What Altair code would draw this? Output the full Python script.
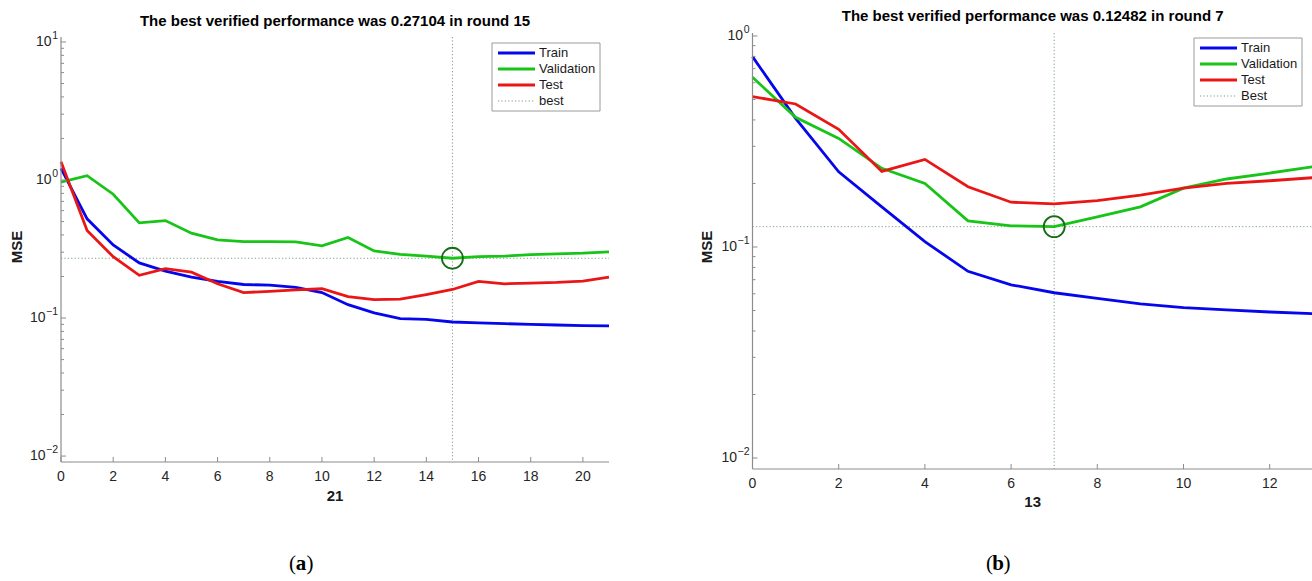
import altair as alt
import pandas as pd

# ---- series -------------------------------------------------------------
SERIES = ["Train", "Validation", "Test"]
SERIES_COLORS = ["#0606ec", "#18c418", "#ea1616"]
BEST_COLOR = "#7f9f7f"
CIRCLE_COLOR = "#176b17"

# panel (a): 21 rounds
epochs_a = list(range(22))
train_a = [1.214, 0.523, 0.338, 0.251, 0.219, 0.198, 0.184, 0.175, 0.173, 0.167,
           0.153, 0.125, 0.109, 0.0989, 0.0979, 0.0936, 0.0921, 0.0910, 0.0900,
           0.0890, 0.0882, 0.0876]
valid_a = [0.965, 1.074, 0.789, 0.489, 0.508, 0.412, 0.368, 0.358, 0.358, 0.356,
           0.333, 0.383, 0.306, 0.289, 0.281, 0.27104, 0.279, 0.281, 0.288,
           0.292, 0.295, 0.302]
test_a = [1.354, 0.431, 0.278, 0.204, 0.228, 0.215, 0.177, 0.153, 0.156, 0.160,
          0.163, 0.143, 0.136, 0.137, 0.148, 0.161, 0.184, 0.177, 0.179, 0.181,
          0.185, 0.198]
best_epoch_a = 15
best_perf_a = 0.27104
title_a = "The best verified performance was 0.27104 in round 15"
best_label_a = "best"

# panel (b): 13 rounds
epochs_b = list(range(14))
train_b = [0.798, 0.407, 0.227, 0.155, 0.106, 0.0767, 0.0662, 0.0607, 0.0571,
           0.0537, 0.0516, 0.0503, 0.0492, 0.0483]
valid_b = [0.637, 0.412, 0.327, 0.236, 0.200, 0.133, 0.126, 0.12482, 0.139,
           0.155, 0.190, 0.210, 0.224, 0.240]
test_b = [0.516, 0.476, 0.361, 0.228, 0.260, 0.193, 0.163, 0.160, 0.166, 0.176,
          0.190, 0.200, 0.206, 0.213]
best_epoch_b = 7
best_perf_b = 0.12482
title_b = "The best verified performance was 0.12482 in round 7"
best_label_b = "Best"

# ticks
xticks_a = list(range(0, 21, 2))
xticks_b = list(range(0, 13, 2))
ydecades_a = [0.01, 0.1, 1.0, 10.0]
yexponents_a = ["−2", "−1", "0", "1"]
ydecades_b = [0.01, 0.1, 1.0]
yexponents_b = ["−2", "−1", "0"]
minor_mult = [2, 3, 4, 5, 6, 7, 8, 9]

FONT = "Liberation Sans"
SERIF = "Liberation Serif"
TICK_COLOR = "#262626"
AXIS_COLOR = "#8c8c8c"
EXP_SIZE = 10.5


def one_row():
    return pd.DataFrame({"k": [0]})


def exp_width(s):
    # approximate advance width of the exponent text in Liberation Sans
    return sum(0.584 if ch == "−" else 0.556 for ch in s) * EXP_SIZE


def panel(cfg):
    x0, x1, ytop, ybot = cfg["x0"], cfg["x1"], cfg["ytop"], cfg["ybot"]
    xsc = alt.Scale(domain=[0, cfg["xmax"]], range=[x0, x1], nice=False, zero=False)
    ysc = alt.Scale(type="log", domain=[10 ** cfg["ylo"], 10 ** cfg["yhi"]],
                    range=[ybot, ytop], nice=False)

    def X(f):
        return alt.X(f, type="quantitative", scale=xsc, axis=None)

    def Y(f):
        return alt.Y(f, type="quantitative", scale=ysc, axis=None)

    layers = []

    # best-round guide lines
    layers.append(
        alt.Chart(pd.DataFrame({"mse": [cfg["best_perf"]]}))
        .mark_rule(color=BEST_COLOR, strokeWidth=1, strokeDash=[1.2, 2.2])
        .encode(y=Y("mse"), x=alt.value(x0), x2=alt.value(x1))
    )
    layers.append(
        alt.Chart(pd.DataFrame({"epoch": [cfg["best_epoch"]]}))
        .mark_rule(color=BEST_COLOR, strokeWidth=1, strokeDash=[1.2, 2.2])
        .encode(x=X("epoch"), y=alt.value(ytop), y2=alt.value(ybot))
    )

    # performance curves
    rows = []
    for name, vals in zip(SERIES, cfg["curves"]):
        for e, v in zip(cfg["epochs"], vals):
            rows.append({"epoch": e, "mse": v, "series": name})
    layers.append(
        alt.Chart(pd.DataFrame(rows))
        .mark_line(strokeWidth=2.8)
        .encode(
            x=X("epoch"), y=Y("mse"),
            color=alt.Color("series:N", scale=alt.Scale(domain=SERIES, range=SERIES_COLORS), legend=None),
            detail="series:N",
        )
    )

    # circle on the best validation point
    layers.append(
        alt.Chart(pd.DataFrame({"epoch": [cfg["best_epoch"]], "mse": [cfg["best_perf"]]}))
        .mark_point(shape="circle", size=440, filled=False, color=CIRCLE_COLOR,
                    strokeWidth=1.8, opacity=1)
        .encode(x=X("epoch"), y=Y("mse"))
    )

    # axis lines
    layers.append(
        alt.Chart(one_row()).mark_rule(color=AXIS_COLOR, strokeWidth=1.2)
        .encode(x=alt.value(x0), y=alt.value(ytop), y2=alt.value(ybot))
    )
    layers.append(
        alt.Chart(one_row()).mark_rule(color=AXIS_COLOR, strokeWidth=1.2)
        .encode(x=alt.value(x0), x2=alt.value(x1), y=alt.value(ybot))
    )

    # ticks (inward)
    layers.append(
        alt.Chart(pd.DataFrame({"epoch": cfg["xticks"]})).mark_rule(color=AXIS_COLOR, strokeWidth=1)
        .encode(x=X("epoch"), y=alt.value(ybot), y2=alt.value(ybot - 5))
    )
    layers.append(
        alt.Chart(pd.DataFrame({"mse": cfg["ydecades"]})).mark_rule(color=AXIS_COLOR, strokeWidth=1)
        .encode(y=Y("mse"), x=alt.value(x0), x2=alt.value(x0 + 5))
    )
    lo, hi = 10 ** cfg["ylo"], 10 ** cfg["yhi"]
    minors = [m * d for d in cfg["ydecades"] for m in minor_mult if lo <= m * d <= hi]
    layers.append(
        alt.Chart(pd.DataFrame({"mse": minors})).mark_rule(color=AXIS_COLOR, strokeWidth=1)
        .encode(y=Y("mse"), x=alt.value(x0), x2=alt.value(x0 + 3))
    )

    # x tick labels
    layers.append(
        alt.Chart(pd.DataFrame({"epoch": cfg["xticks"], "label": [str(t) for t in cfg["xticks"]]}))
        .mark_text(baseline="middle", align="center", font=FONT, fontSize=14, color=TICK_COLOR)
        .encode(x=X("epoch"), y=alt.value(ybot + 15), text="label:N")
    )
    # y tick labels: base "10" with a raised exponent
    for dec, ex in zip(cfg["ydecades"], cfg["yexponents"]):
        row = pd.DataFrame({"mse": [dec]})
        ex_right = x0 - 3
        layers.append(
            alt.Chart(row)
            .mark_text(text=ex, align="right", baseline="middle", dy=-6, font=FONT,
                       fontSize=EXP_SIZE, color=TICK_COLOR)
            .encode(x=alt.value(ex_right), y=Y("mse"))
        )
        layers.append(
            alt.Chart(row)
            .mark_text(text="10", align="right", baseline="middle", font=FONT,
                       fontSize=14, color=TICK_COLOR)
            .encode(x=alt.value(ex_right - exp_width(ex) - 0.5), y=Y("mse"))
        )

    # legend
    lx, ly = cfg["legend_x"], cfg["legend_y"]
    layers.append(
        alt.Chart(one_row()).mark_rect(fill="white", stroke="#9a9a9a", strokeWidth=1)
        .encode(x=alt.value(lx), x2=alt.value(lx + 108), y=alt.value(ly), y2=alt.value(ly + 68))
    )
    entries = list(zip(SERIES, SERIES_COLORS)) + [(cfg["best_label"], BEST_COLOR)]
    for i, (name, col) in enumerate(entries):
        yy = ly + 10 + 16 * i
        if i < 3:
            samp = alt.Chart(one_row()).mark_rule(color=col, strokeWidth=2.8)
        else:
            samp = alt.Chart(one_row()).mark_rule(color=col, strokeWidth=1, strokeDash=[1.2, 2.2])
        layers.append(samp.encode(x=alt.value(lx + 6), x2=alt.value(lx + 43), y=alt.value(yy)))
        layers.append(
            alt.Chart(one_row())
            .mark_text(text=name, align="left", baseline="middle", font=FONT, fontSize=13, color="#1a1a1a")
            .encode(x=alt.value(lx + 47), y=alt.value(yy))
        )

    # titles and labels
    cx = (x0 + x1) / 2
    layers.append(
        alt.Chart(one_row())
        .mark_text(text=cfg["title"], align="center", baseline="middle", font=FONT,
                   fontSize=15, fontWeight="bold", color="black")
        .encode(x=alt.value(cx), y=alt.value(cfg["title_y"]))
    )
    layers.append(
        alt.Chart(one_row())
        .mark_text(text=str(cfg["xmax"]), align="center", baseline="middle", font=FONT,
                   fontSize=15, fontWeight="bold", color="#1a1a1a")
        .encode(x=alt.value(cx), y=alt.value(cfg["xlabel_y"]))
    )
    layers.append(
        alt.Chart(one_row())
        .mark_text(text="MSE", align="center", baseline="middle", angle=270, font=FONT,
                   fontSize=15, fontWeight="bold", color="#1a1a1a")
        .encode(x=alt.value(cfg["ylabel_x"]), y=alt.value(247))
    )
    tx = cfg["tag_x"]
    layers.append(
        alt.Chart(one_row())
        .mark_text(text="(", align="right", baseline="middle", font=SERIF, fontSize=21, color="black")
        .encode(x=alt.value(tx - 5), y=alt.value(564))
    )
    layers.append(
        alt.Chart(one_row())
        .mark_text(text=cfg["tag"], align="center", baseline="middle", font=SERIF, fontSize=21,
                   fontWeight="bold", color="black")
        .encode(x=alt.value(tx), y=alt.value(564))
    )
    layers.append(
        alt.Chart(one_row())
        .mark_text(text=")", align="left", baseline="middle", font=SERIF, fontSize=21, color="black")
        .encode(x=alt.value(tx + 5.5), y=alt.value(564))
    )
    return layers


cfg_a = dict(x0=61, x1=609, xmax=21, ytop=37, ybot=462, ylo=-2.043, yhi=1.036,
             epochs=epochs_a, curves=[train_a, valid_a, test_a],
             best_epoch=best_epoch_a, best_perf=best_perf_a, best_label=best_label_a,
             xticks=xticks_a, ydecades=ydecades_a, yexponents=yexponents_a,
             legend_x=492, legend_y=43, title=title_a, title_y=21, xlabel_y=496,
             ylabel_x=17, tag="a", tag_x=301)
cfg_b = dict(x0=752.5, x1=1312.8, xmax=13, ytop=33, ybot=469, ylo=-2.052, yhi=0.014,
             epochs=epochs_b, curves=[train_b, valid_b, test_b],
             best_epoch=best_epoch_b, best_perf=best_perf_b, best_label=best_label_b,
             xticks=xticks_b, ydecades=ydecades_b, yexponents=yexponents_b,
             legend_x=1194, legend_y=38, title=title_b, title_y=16, xlabel_y=502,
             ylabel_x=707, tag="b", tag_x=998)

chart = (
    alt.layer(*(panel(cfg_a) + panel(cfg_b)))
    .resolve_scale(x="independent", y="independent")
    .properties(width=1312, height=581, padding=0,
                autosize=alt.AutoSizeParams(type="none"), background="white")
    .configure_view(stroke=None)
)

chart.save("out.html", embed_options={"renderer": "svg", "actions": False})
